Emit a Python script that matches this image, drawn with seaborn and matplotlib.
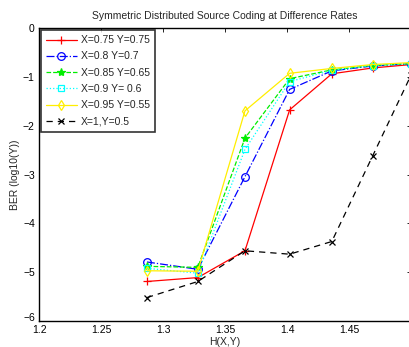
import matplotlib
matplotlib.use("Agg")
import matplotlib.pyplot as plt
import matplotlib.transforms as mtransforms
import seaborn as sns

# =============================================================================
# data
# =============================================================================
h_xy = [1.287, 1.328, 1.366, 1.402, 1.436, 1.469, 1.5]

ber_075 = [-5.19, -5.11, -4.56, -1.67, -0.93, -0.81, -0.74]
ber_080 = [-4.79, -4.94, -3.04, -1.25, -0.87, -0.77, -0.72]
ber_085 = [-4.88, -4.90, -2.25, -1.03, -0.85, -0.76, -0.72]
ber_090 = [-4.92, -5.02, -2.48, -1.09, -0.86, -0.76, -0.72]
ber_095 = [-4.97, -4.98, -1.69, -0.92, -0.82, -0.74, -0.70]
ber_100 = [-5.52, -5.19, -4.56, -4.63, -4.37, -2.61, -0.95]

labels = ["X=0.75 Y=0.75", "X=0.8 Y=0.7", "X=0.85 Y=0.65",
          "X=0.9 Y= 0.6", "X=0.95 Y=0.55", "X=1,Y=0.5"]
series = [ber_075, ber_080, ber_085, ber_090, ber_095, ber_100]

x_ticks = [1.2, 1.25, 1.3, 1.35, 1.4, 1.45]
y_ticks = [0, -1, -2, -3, -4, -5, -6]

# line styles (matlab look)
styles = [
    dict(color="red", linestyle="-", marker="+", mfc="none", ms=6),
    dict(color="blue", linestyle="-.", marker="o", mfc="none", ms=5.5),
    dict(color="#00ee00", linestyle="--", marker="*", mfc="#00ee00", ms=6),
    dict(color="cyan", linestyle=":", marker="s", mfc="none", ms=5),
    dict(color="#ffee00", linestyle="-", marker="d", mfc="none", ms=5.5),
    dict(color="black", linestyle=(0, (5, 4)), marker="x", mfc="none", ms=4),
]

sns.set_style("white")
plt.rcParams['font.family'] = ['Liberation Sans', 'DejaVu Sans']
plt.rcParams['font.size'] = 7.5

fig = plt.figure(figsize=(4.09, 3.47), dpi=100)
ax = fig.add_axes([0.0954, 0.075, 0.910, 0.843])

for y, lab, st in zip(series, labels, styles):
    sns.lineplot(x=h_xy, y=y, ax=ax, label=lab, color=st["color"],
                 linestyle=st["linestyle"], marker=st["marker"],
                 markerfacecolor=st["mfc"], markeredgecolor=st["color"],
                 markersize=st["ms"], markeredgewidth=0.9, linewidth=0.9)

ax.set_xlim(1.2, 1.5)
ax.set_ylim(-6, 0)
ax.set_xticks(x_ticks)
ax.set_xticklabels([f"{v:g}" for v in x_ticks])
ax.set_yticks(y_ticks)
ax.set_yticklabels(["0"] + ["\u2212%d" % (-v) for v in y_ticks[1:]])
ax.tick_params(direction="in", length=3, width=0.6, top=True, right=True,
               labelsize=7.5, colors="black")
ax.tick_params(axis="x", pad=3)
ax.tick_params(axis="y", pad=3)
for sp in ax.spines.values():
    sp.set_color("black")
    sp.set_linewidth(1.0)

# lift the lowest y label a little, like the matlab corner
lbl = ax.get_yticklabels()[-1]
lbl.set_transform(lbl.get_transform() +
                  mtransforms.ScaledTranslation(0, 3 / 72, fig.dpi_scale_trans))

ax.set_xlabel("H(X,Y)", fontsize=7.5, labelpad=1)
ax.set_ylabel("BER (log10(Y))", fontsize=7.5, labelpad=2)
ax.set_title("Symmetric Distributed Source Coding at Difference Rates",
             fontsize=7.5, pad=7)

leg = ax.legend(loc="upper left", fontsize=7.5, frameon=True, fancybox=False,
                borderaxespad=0.15, handlelength=3.0, labelspacing=0.6,
                handletextpad=0.4, borderpad=0.5)
leg.get_frame().set_edgecolor("black")
leg.get_frame().set_linewidth(1.2)

fig.savefig("out.png", dpi=100)
